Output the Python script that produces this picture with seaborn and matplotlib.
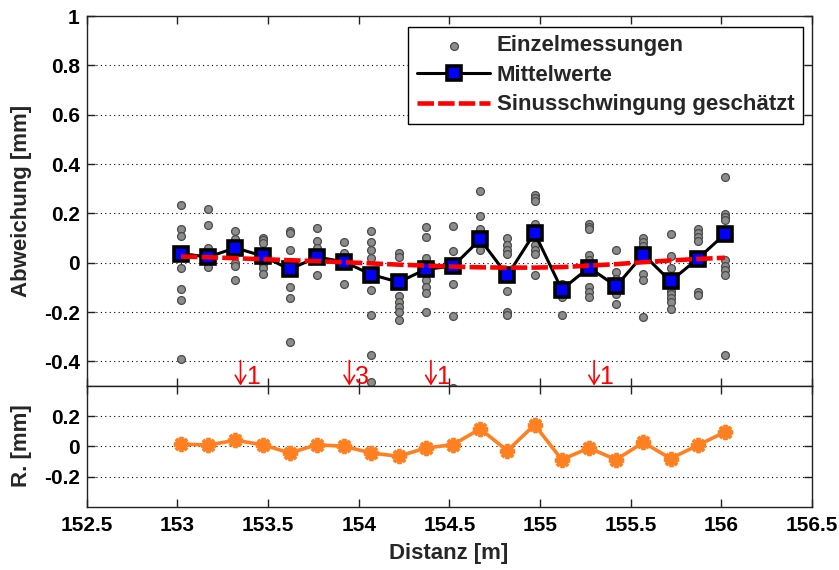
import matplotlib
matplotlib.use("Agg")
import matplotlib.pyplot as plt
import matplotlib.transforms as mtransforms
import numpy as np
import pandas as pd
import seaborn as sns
from matplotlib.ticker import FuncFormatter, FixedLocator

# ---------------- data ----------------
positionen = [153.02, 153.17, 153.32, 153.47, 153.62, 153.77, 153.92, 154.07,
              154.22, 154.37, 154.52, 154.67, 154.82, 154.97, 155.12, 155.27,
              155.42, 155.57, 155.72, 155.87, 156.02]

mittelwerte = [0.037, 0.023, 0.060, 0.027, -0.027, 0.023, 0.003, -0.048,
               -0.079, -0.027, -0.014, 0.094, -0.052, 0.121, -0.109, -0.020,
               -0.095, 0.033, -0.075, 0.016, 0.116]

sinus = [0.025, 0.022, 0.018, 0.014, 0.010, 0.006, 0.002, -0.003,
         -0.008, -0.012, -0.016, -0.019, -0.020, -0.020, -0.018, -0.012,
         -0.006, 0.002, 0.009, 0.015, 0.020]

residuen = [0.015, 0.009, 0.040, 0.011, -0.044, 0.011, 0.000, -0.044,
            -0.066, -0.011, 0.011, 0.116, -0.029, 0.143, -0.088, -0.011,
            -0.088, 0.026, -0.081, 0.007, 0.095]

einzelmessungen = [
    [0.234, 0.135, 0.109, 0.040, -0.020, -0.107, -0.151, -0.389],
    [0.216, 0.152, 0.061, 0.025, -0.018],
    [0.129, 0.095, 0.070, 0.000, -0.015, -0.072],
    [0.102, 0.091, 0.080, 0.030, -0.007, -0.020, -0.045],
    [0.129, 0.121, 0.053, -0.030, -0.099, -0.143, -0.321],
    [0.140, 0.088, 0.061, 0.020, -0.048],
    [0.083, 0.039, 0.003, -0.086],
    [0.128, 0.084, 0.053, 0.020, -0.050, -0.110, -0.211, -0.376, -0.483],
    [0.039, 0.023, -0.080, -0.137, -0.161, -0.181, -0.201, -0.233],
    [0.146, 0.105, 0.019, -0.030, -0.072, -0.097, -0.124, -0.201],
    [0.148, 0.048, -0.015, -0.086, -0.215, -0.510],
    [0.291, 0.189, 0.135, 0.094, 0.071, 0.050],
    [0.098, 0.071, 0.053, 0.037, -0.050, -0.116, -0.201, -0.211],
    [0.275, 0.261, 0.248, 0.155, 0.120, 0.071, 0.053, 0.037, -0.048],
    [-0.086, -0.110, -0.140, -0.211],
    [0.156, 0.146, 0.135, 0.030, 0.010, -0.020, -0.099, -0.120, -0.140],
    [0.053, -0.038, -0.065, -0.095, -0.127, -0.167],
    [0.098, 0.084, 0.067, 0.033, -0.045, -0.069, -0.219],
    [0.116, 0.026, -0.020, -0.075, -0.113, -0.129, -0.143, -0.161, -0.188],
    [0.135, 0.121, 0.105, 0.088, 0.016, -0.120, -0.133],
    [0.347, 0.196, 0.184, 0.173, 0.116, 0.010, -0.015, -0.031, -0.048, -0.376],
]

ausreisser_x = [153.32, 153.92, 154.37, 155.27]
ausreisser_n = [1, 3, 1, 1]

x_ticks = [152.5, 153, 153.5, 154, 154.5, 155, 155.5, 156, 156.5]
y_ticks_oben = [-0.4, -0.2, 0, 0.2, 0.4, 0.6, 0.8, 1]
y_ticks_unten = [-0.2, 0, 0.2]

# ---------------- tables ----------------
df_einzel = pd.DataFrame(
    [(p, v) for p, vals in zip(positionen, einzelmessungen) for v in vals],
    columns=["x", "y"])
df_mittel = pd.DataFrame({"x": positionen, "y": mittelwerte})
df_sinus = pd.DataFrame({"x": positionen, "y": sinus})
df_res = pd.DataFrame({"x": positionen, "y": residuen})

# ---------------- style ----------------
sns.set_style("white")
plt.rcParams["font.family"] = ["Liberation Sans", "DejaVu Sans"]
plt.rcParams["font.weight"] = "bold"
plt.rcParams["xtick.direction"] = "in"
plt.rcParams["ytick.direction"] = "in"

W, H = 839, 570
fig = plt.figure(figsize=(W / 100, H / 100), dpi=100)
fig.patch.set_facecolor("white")

L, R = 86.7, 812.0
top_t, top_b = 16.0, 386.0
bot_t, bot_b = 386.0, 506.7
ax1 = fig.add_axes([L / W, 1 - top_b / H, (R - L) / W, (top_b - top_t) / H])
ax2 = fig.add_axes([L / W, 1 - bot_b / H, (R - L) / W, (bot_b - bot_t) / H])

fmt = FuncFormatter(lambda v, p: ("%g" % v) if abs(v) > 1e-9 else "0")

# top panel
sns.scatterplot(data=df_einzel, x="x", y="y", ax=ax1, color="#8c8c8c",
                edgecolor="#4a4a4a", linewidth=0.9, s=32, zorder=2,
                label="Einzelmessungen", legend=False)
sns.lineplot(data=df_mittel, x="x", y="y", ax=ax1, color="black", lw=2.2,
             marker="s", markersize=10, markerfacecolor="#0000ff",
             markeredgecolor="black", markeredgewidth=2.6, zorder=3,
             label="Mittelwerte", legend=False)
sns.lineplot(data=df_sinus, x="x", y="y", ax=ax1, color="#ff0000", lw=3.3,
             zorder=4, label="Sinusschwingung geschätzt", legend=False)
ax1.lines[-1].set_dashes((3.6, 0.9))

# outlier markers: thin red arrow + count
arrow_tr = mtransforms.offset_copy(ax1.transData, fig=fig, x=3.7, y=0.3,
                                   units="points")
for xv, n in zip(ausreisser_x, ausreisser_n):
    ax1.annotate("", xy=(xv, -0.5), xycoords=arrow_tr,
                 xytext=(0, 18), textcoords="offset points",
                 arrowprops=dict(arrowstyle="->,head_length=0.45,head_width=0.27",
                                 color="red", lw=1.2, shrinkA=0, shrinkB=0,
                                 mutation_scale=14),
                 zorder=5)
    ax1.annotate(str(n), xy=(xv, -0.5), xytext=(7.6, 1.8),
                 textcoords="offset points", color="red", fontsize=18,
                 fontweight="normal", ha="left", va="baseline",
                 family=["Liberation Sans", "DejaVu Sans"], zorder=5)

ax1.set_xlim(152.5, 156.5)
ax1.set_ylim(-0.5, 1.0)
ax1.xaxis.set_major_locator(FixedLocator(x_ticks))
ax1.yaxis.set_major_locator(FixedLocator(y_ticks_oben))
ax1.yaxis.set_major_formatter(fmt)
ax1.set_xticklabels([])
ax1.set_xlabel("")
ax1.set_ylabel("")
ax1.grid(axis="y", linestyle=(0, (1, 3)), color="black", lw=0.8)
ax1.grid(axis="x", visible=False)

handles, labels = ax1.get_legend_handles_labels()
leg = ax1.legend(handles, labels, loc="upper right",
                 bbox_to_anchor=((803 - L) / (R - L), (top_b - 27) / (top_b - top_t)),
                 borderaxespad=0, fancybox=False, framealpha=1, edgecolor="black",
                 handlelength=3.3, labelspacing=0.38,
                 borderpad=0.38, handletextpad=0.3,
                 prop={"weight": "bold", "size": 16})
leg.get_frame().set_linewidth(1.0)

# bottom panel
sns.lineplot(data=df_res, x="x", y="y", ax=ax2, color="#ff8020", lw=2.6,
             marker=(8, 2, 0), markersize=11, markeredgewidth=2.8,
             markeredgecolor="#ff8020", legend=False)
ax2.set_xlim(152.5, 156.5)
ax2.set_ylim(-0.4, 0.4)
ax2.xaxis.set_major_locator(FixedLocator(x_ticks))
ax2.xaxis.set_major_formatter(fmt)
ax2.yaxis.set_major_locator(FixedLocator(y_ticks_unten))
ax2.yaxis.set_major_formatter(fmt)
ax2.set_xlabel("")
ax2.set_ylabel("")
ax2.grid(axis="y", linestyle=(0, (1, 3)), color="black", lw=0.8)
ax2.grid(axis="x", visible=False)

for ax in (ax1, ax2):
    for s in ax.spines.values():
        s.set_visible(True)
        s.set_color("#222222")
        s.set_linewidth(1.0)
    ax.tick_params(axis="both", which="major", direction="in", length=6,
                   width=1.0, top=True, right=True, bottom=True, left=True,
                   labelsize=15, colors="#222222", labelcolor="black")
    ax.tick_params(axis="y", pad=5)
    ax.tick_params(axis="x", pad=7)
    for t in ax.get_xticklabels() + ax.get_yticklabels():
        t.set_fontweight("bold")

fig.text(22 / W, 1 - 201 / H, "Abweichung [mm]", rotation=90, ha="center",
         va="center", fontsize=16, fontweight="bold")
fig.text(22 / W, 1 - 446 / H, "R. [mm]", rotation=90, ha="center",
         va="center", fontsize=16, fontweight="bold")
fig.text(449 / W, 1 - 553 / H, "Distanz [m]", ha="center", va="center",
         fontsize=16, fontweight="bold")

fig.savefig("out.png", dpi=100, facecolor="white")
